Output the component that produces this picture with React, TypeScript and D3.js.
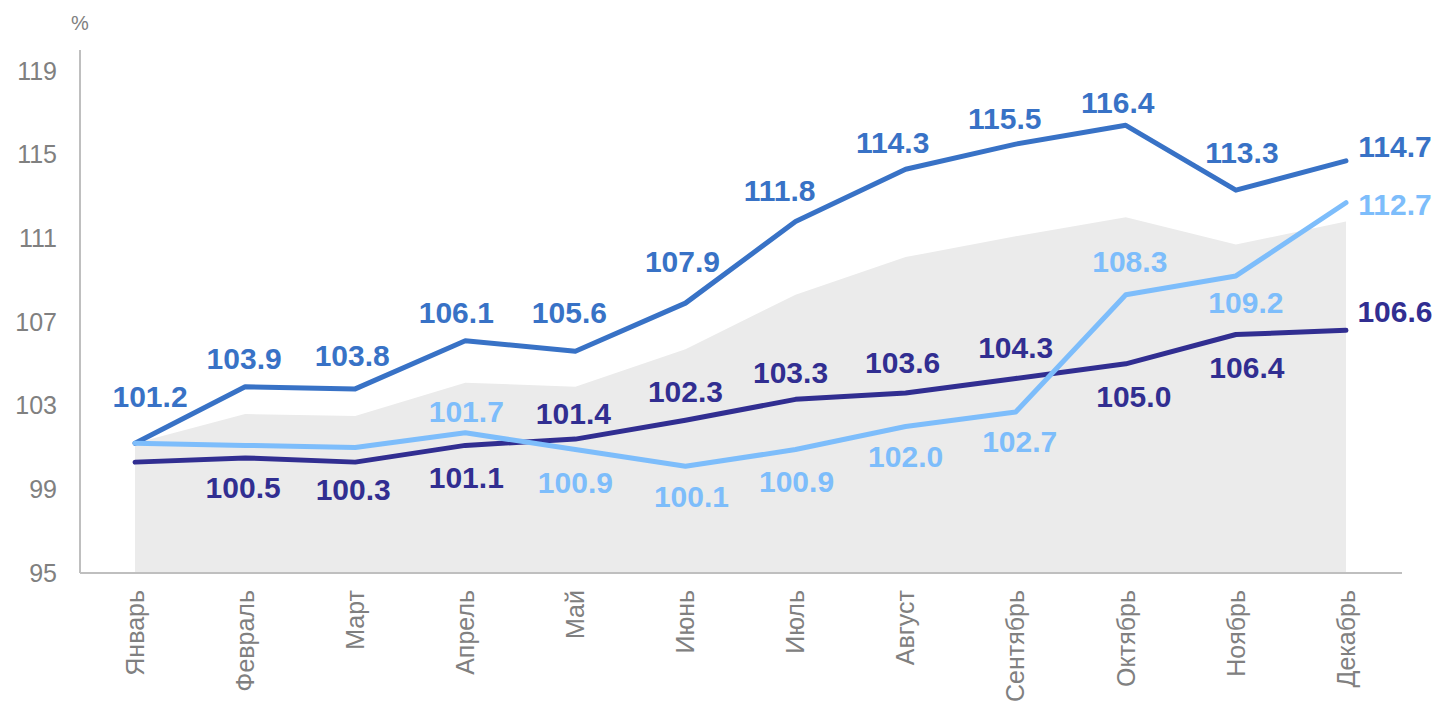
import React from "react";
import * as d3 from "d3";

const months = ["Январь", "Февраль", "Март", "Апрель", "Май", "Июнь", "Июль", "Август", "Сентябрь", "Октябрь", "Ноябрь", "Декабрь"];
const yTicks = [95, 99, 103, 107, 111, 115, 119];

// series values (%)
const seriesMid = [101.2, 103.9, 103.8, 106.1, 105.6, 107.9, 111.8, 114.3, 115.5, 116.4, 113.3, 114.7];
const seriesLight = [101.2, 101.1, 101.0, 101.7, 100.9, 100.1, 100.9, 102.0, 102.7, 108.3, 109.2, 112.7];
const seriesNavy = [100.3, 100.5, 100.3, 101.1, 101.4, 102.3, 103.3, 103.6, 104.3, 105.0, 106.4, 106.6];
const areaGray = [101.2, 102.6, 102.5, 104.1, 103.9, 105.7, 108.3, 110.1, 111.1, 112.0, 110.7, 111.8];

// which points carry a value label
const showMid = [true, true, true, true, true, true, true, true, true, true, true, true];
const showLight = [false, false, false, true, true, true, true, true, true, true, true, true];
const showNavy = [false, true, true, true, true, true, true, true, true, true, true, true];

// label placement offsets (dx, dy of baseline from the point)
const offMid: [number, number][] = [[15, -36], [-1, -18], [-3, -23], [-9, -18], [-6, -28], [-3, -31], [-16, -21], [-13, -16], [-11, -15], [-8, -12], [6, -27], [49, -4]];
const offLight: [number, number][] = [[0, 0], [0, 0], [0, 0], [1, -11], [0, 43], [6, 41], [1, 42], [0, 40], [4, 40], [4, -23], [10, 37], [49, 12]];
const offNavy: [number, number][] = [[0, 0], [-2, 40], [-2, 38], [1, 43], [-2, -15], [0, -18], [-5, -16], [-3, -20], [0, -20], [8, 43], [11, 43], [49, -8]];

const COL_MID = "#3872C6";
const COL_LIGHT = "#7DBDFB";
const COL_NAVY = "#312E91";
const COL_AREA = "#EBEBEB";
const COL_AXIS = "#BFBFBF";
const COL_TEXT = "#808080";
const FONT = "'Liberation Sans', Arial, sans-serif";

export default function App() {
  const W = 1440, H = 705;
  const x = d3.scalePoint<string>().domain(months).range([80, 1401]).padding(0.5);
  const y = d3.scaleLinear().domain([95, 120]).range([573, 50]);

  const line = d3.line<number>()
    .x((_, i) => x(months[i]) as number)
    .y((d) => y(d));
  const area = d3.area<number>()
    .x((_, i) => x(months[i]) as number)
    .y0(y(95))
    .y1((d) => y(d));

  const labels = (vals: number[], show: boolean[], off: [number, number][], color: string, key: string) =>
    vals.map((v, i) =>
      show[i] ? (
        <text
          key={key + i}
          x={(x(months[i]) as number) + off[i][0]}
          y={y(v) + off[i][1]}
          textAnchor="middle"
          fontFamily={FONT}
          fontWeight="bold"
          fontSize={30}
          fill={color}
        >
          {v.toFixed(1)}
        </text>
      ) : null
    );

  return (
    <svg width={W} height={H} style={{ position: "absolute", left: 0, top: 0, background: "#fff" }}>
      <path d={area(areaGray) || ""} fill={COL_AREA} />
      {/* axes */}
      <line x1={80} x2={80} y1={50} y2={y(95)} stroke={COL_AXIS} strokeWidth={2} />
      <line x1={80} x2={1402} y1={y(95)} y2={y(95)} stroke={COL_AXIS} strokeWidth={2} />
      {yTicks.map((t) => (
        <text key={"yt" + t} x={57} y={y(t)} dy="0.35em" textAnchor="end" fontFamily={FONT} fontSize={25} fill={COL_TEXT}>
          {t}
        </text>
      ))}
      <text x={80} y={30} textAnchor="middle" fontFamily={FONT} fontSize={20} fill={COL_TEXT}>%</text>
      {months.map((m) => (
        <text
          key={"m" + m}
          transform={`translate(${x(m)},590) rotate(-90)`}
          dy="0.35em"
          textAnchor="end"
          fontFamily={FONT}
          fontSize={25}
          fill={COL_TEXT}
        >
          {m}
        </text>
      ))}
      <path d={line(seriesNavy) || ""} fill="none" stroke={COL_NAVY} strokeWidth={5} strokeLinecap="round" strokeLinejoin="round" />
      <path d={line(seriesMid) || ""} fill="none" stroke={COL_MID} strokeWidth={5} strokeLinecap="round" strokeLinejoin="round" />
      <path d={line(seriesLight) || ""} fill="none" stroke={COL_LIGHT} strokeWidth={5} strokeLinecap="round" strokeLinejoin="round" />
      {labels(seriesMid, showMid, offMid, COL_MID, "lm")}
      {labels(seriesLight, showLight, offLight, COL_LIGHT, "ll")}
      {labels(seriesNavy, showNavy, offNavy, COL_NAVY, "ln")}
    </svg>
  );
}
